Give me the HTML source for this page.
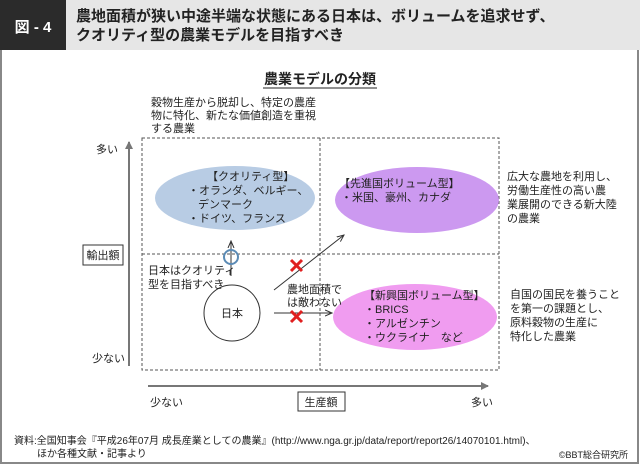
<!DOCTYPE html>
<html><head><meta charset="utf-8"><style>
html,body{margin:0;padding:0;background:#fff}
svg{display:block}
text{font-family:"Liberation Sans","Noto Sans CJK JP",sans-serif;fill:#222}
</style></head><body>
<svg width="640" height="464" viewBox="0 0 640 464" xmlns="http://www.w3.org/2000/svg">
<defs>
<marker id="ag" markerWidth="8" markerHeight="8" refX="7" refY="4" orient="auto" markerUnits="userSpaceOnUse"><path d="M0,0 L8,4 L0,8 z" fill="#777"/></marker>
<marker id="ak" markerWidth="8" markerHeight="8" refX="7" refY="4" orient="auto" markerUnits="userSpaceOnUse"><path d="M0,1 L7,4 L0,7" fill="none" stroke="#333" stroke-width="1"/></marker>
</defs>
<rect x="1" y="1" width="637" height="462" fill="#fff" stroke="#888" stroke-width="2"/>
<rect x="0" y="0" width="640" height="50" fill="#e6e6e6"/>
<rect x="0" y="0" width="66" height="50" fill="#2b2b2b"/>
<text x="33" y="32" font-size="15" font-weight="bold" text-anchor="middle" style="fill:#fff">図 - 4</text>
<text x="76" y="21" font-size="15" font-weight="bold">農地面積が狭い中途半端な状態にある日本は、ボリュームを追求せず、</text>
<text x="76" y="40" font-size="15" font-weight="bold">クオリティ型の農業モデルを目指すべき</text>
<text x="320" y="84" font-size="14" font-weight="bold" text-anchor="middle">農業モデルの分類</text>
<line x1="263" y1="88" x2="377" y2="88" stroke="#222"/>
<text x="151" y="106" font-size="11">穀物生産から脱却し、特定の農産</text>
<text x="151" y="119" font-size="11">物に特化、新たな価値創造を重視</text>
<text x="151" y="132" font-size="11">する農業</text>
<rect x="142" y="138" width="357" height="232" fill="none" stroke="#555" stroke-dasharray="3,2"/>
<line x1="320" y1="138" x2="320" y2="370" stroke="#555" stroke-dasharray="3,2"/>
<line x1="142" y1="254" x2="499" y2="254" stroke="#555" stroke-dasharray="3,2"/>
<line x1="129" y1="366" x2="129" y2="142" stroke="#777" stroke-width="2" marker-end="url(#ag)"/>
<line x1="148" y1="386" x2="488" y2="386" stroke="#777" stroke-width="2" marker-end="url(#ag)"/>
<text x="96" y="153" font-size="11">多い</text>
<text x="92" y="362" font-size="11">少ない</text>
<rect x="83" y="245" width="40" height="20" fill="#fff" stroke="#333"/>
<text x="103" y="259" font-size="11" text-anchor="middle">輸出額</text>
<text x="150" y="406" font-size="11">少ない</text>
<rect x="298" y="392" width="47" height="19" fill="#fff" stroke="#333"/>
<text x="321" y="406" font-size="11" text-anchor="middle">生産額</text>
<text x="471" y="406" font-size="11">多い</text>
<ellipse cx="235" cy="198" rx="80" ry="32" fill="#b8cce4"/>
<text x="207" y="180" font-size="11">【クオリティ型】</text>
<text x="188" y="194" font-size="11">・オランダ、ベルギー、</text>
<text x="198" y="208" font-size="11">デンマーク</text>
<text x="188" y="222" font-size="11">・ドイツ、フランス</text>
<ellipse cx="417" cy="200" rx="82" ry="33" fill="#cc99f0"/>
<text x="339" y="187" font-size="11">【先進国ボリューム型】</text>
<text x="341" y="201" font-size="11">・米国、豪州、カナダ</text>
<ellipse cx="415" cy="317" rx="82" ry="33" fill="#f09cf0"/>
<text x="364" y="299" font-size="11">【新興国ボリューム型】</text>
<text x="364" y="313" font-size="11">・BRICS</text>
<text x="364" y="327" font-size="11">・アルゼンチン</text>
<text x="364" y="341" font-size="11">・ウクライナ　など</text>
<circle cx="232" cy="313" r="28" fill="#fff" stroke="#333"/>
<text x="232" y="317" font-size="11" text-anchor="middle">日本</text>
<line x1="231" y1="276" x2="231" y2="241" stroke="#333" marker-end="url(#ak)"/>
<circle cx="231" cy="257" r="7" fill="none" stroke="#5b8bb5" stroke-width="2"/>
<text x="148" y="274" font-size="11">日本はクオリティ</text>
<text x="148" y="288" font-size="11">型を目指すべき</text>
<line x1="274" y1="290" x2="344" y2="235" stroke="#333" marker-end="url(#ak)"/>
<line x1="274" y1="313" x2="332" y2="313" stroke="#333" marker-end="url(#ak)"/>
<text x="287" y="293" font-size="11">農地面積で</text>
<text x="287" y="306" font-size="11">は敵わない</text>
<g stroke="#e02020" stroke-width="3"><line x1="291" y1="260" x2="302" y2="271"/><line x1="302" y1="260" x2="291" y2="271"/>
<line x1="291" y1="311" x2="302" y2="322"/><line x1="302" y1="311" x2="291" y2="322"/></g>
<text x="507" y="180" font-size="11">広大な農地を利用し、</text>
<text x="507" y="194" font-size="11">労働生産性の高い農</text>
<text x="507" y="208" font-size="11">業展開のできる新大陸</text>
<text x="507" y="222" font-size="11">の農業</text>
<text x="510" y="298" font-size="11">自国の国民を養うこと</text>
<text x="510" y="312" font-size="11">を第一の課題とし、</text>
<text x="510" y="326" font-size="11">原料穀物の生産に</text>
<text x="510" y="340" font-size="11">特化した農業</text>
<text x="14" y="444" font-size="10">資料:全国知事会『平成26年07月 成長産業としての農業』(http://www.nga.gr.jp/data/report/report26/14070101.html)、</text>
<text x="37" y="457" font-size="10">ほか各種文献・記事より</text>
<text x="628" y="458" font-size="9" text-anchor="end">©BBT総合研究所</text>
</svg>
</body></html>
